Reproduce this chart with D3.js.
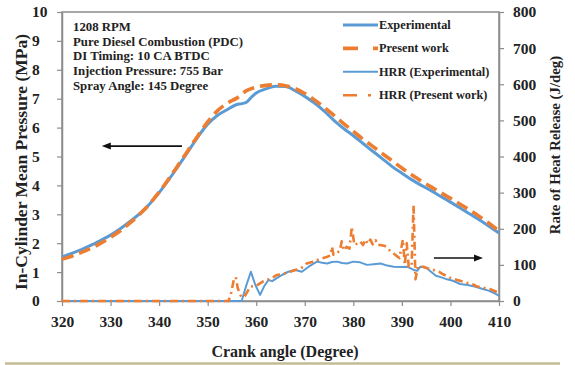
<!DOCTYPE html>
<html>
<head>
<meta charset="utf-8">
<script src="https://cdn.jsdelivr.net/npm/d3@7/dist/d3.min.js"></script>
<style>
  html, body { margin: 0; padding: 0; background: #fff; }
  svg text { font-family: "Liberation Serif", "Times New Roman", serif; font-weight: bold; fill: #222; }
</style>
</head>
<body>
<svg id="chart" width="575" height="365"></svg>
<script>
// Axis ranges and tick values
const crankTicks = [320, 330, 340, 350, 360, 370, 380, 390, 400, 410];
const pressureTicks = [0, 1, 2, 3, 4, 5, 6, 7, 8, 9, 10];
const hrrTicks = [0, 100, 200, 300, 400, 500, 600, 700, 800];

// In-cylinder pressure (MPa), experimental
const pExpAngle = [320,322,324,326,328,330,332,334,336,338,340,342,344,346,348,350,352,354,356,357,358,359,360,362,364,366,368,370,372,374,376,378,380,382,384,386,388,390,392,394,396,398,400,402,404,406,408,410];
const pExpValue = [1.52,1.65,1.78,1.93,2.10,2.28,2.50,2.75,3.02,3.35,3.75,4.20,4.68,5.18,5.68,6.12,6.42,6.62,6.80,6.83,6.88,7.05,7.20,7.34,7.43,7.42,7.28,7.08,6.85,6.57,6.25,5.97,5.72,5.45,5.18,4.92,4.65,4.42,4.20,4.00,3.82,3.62,3.42,3.22,3.01,2.80,2.58,2.35];

// In-cylinder pressure (MPa), present work
const pSimAngle = [320,322,324,326,328,330,332,334,336,338,340,342,344,346,348,350,352,354,356,358,360,362,364,366,368,370,372,374,376,378,380,382,384,386,388,390,392,394,396,398,400,402,404,406,408,410];
const pSimValue = [1.45,1.55,1.68,1.83,2.00,2.20,2.43,2.70,3.00,3.35,3.77,4.23,4.72,5.22,5.72,6.20,6.58,6.84,7.02,7.28,7.40,7.46,7.48,7.45,7.35,7.18,6.96,6.70,6.42,6.14,5.87,5.60,5.35,5.10,4.85,4.60,4.37,4.15,3.95,3.75,3.55,3.35,3.14,2.92,2.68,2.42];

// Rate of heat release (J/deg), experimental
const hExpAngle = [320,357,358,358.9,359.8,360.8,361.6,362.5,363.3,364,365.3,366.6,368,369.4,370.8,372.5,373.6,374.6,375.6,376.6,377.7,378.7,380,381.4,382.8,384.2,385.6,387,388.3,390,391.1,392.4,393.2,393.8,395,396,397,398,399.3,400.5,402,403.5,405,406.5,408,409.3,410];
const hExpValue = [0,0,45,81,45,17,40,58,55,61,72,81,86,81,95,109,106,104,108,109,105,104,109,107,100,102,104,98,95,94,95,86,84,95,92,81,70,66,60,56,47,44,40,34,28,20,14];

// Rate of heat release (J/deg), present work
const hSimAngle = [320,354.3,354.8,355.4,355.8,356.2,356.8,357.5,358.8,360,361.5,363,364.3,365.5,367,368,369,370,370.4,371.5,372.5,373.5,374.5,375.3,375.6,375.9,376.3,377.2,377.6,378,378.6,379.2,379.7,380.2,381,381.4,382,382.5,383,383.5,384,384.6,385,385.6,386.5,387,387.5,388,388.7,389.5,390.2,390.6,391,391.4,392,392.4,392.8,393.3,394.4,395.2,396.5,397.6,398.5,400,401.4,402.7,403.5,404.8,405.5,407,408.2,409.2,410];
const hSimValue = [0,0,20,60,66,35,15,10,40,42,55,62,72,75,81,86,89,98,104,108,113,118,122,126,150,128,132,138,165,140,150,145,206,155,160,165,155,170,158,170,157,168,155,155,152,148,140,135,127,119,170,100,160,95,95,265,60,95,95,91,86,81,74,64,58,53,50,45,40,36,33,27,22];

// Legend entries
const legendLabels = ["Experimental", "Present work", "HRR (Experimental)", "HRR (Present work)"];

// Operating condition notes
const notes = ["1208 RPM", "Pure Diesel Combustion (PDC)", "DI Timing: 10 CA BTDC", "Injection Pressure: 755 Bar", "Spray Angle: 145 Degree"];

const BLUE = "#5b9bd5", ORANGE = "#ed7d31", AXIS = "#8c8c8c";
const SERIF = '"Liberation Serif", "Times New Roman", serif';

const svg = d3.select("#chart");
const plot = { left: 62, right: 499, top: 12, bottom: 301 };

const x = d3.scaleLinear().domain([320, 410]).range([plot.left, plot.right]);
const yP = d3.scaleLinear().domain([0, 10]).range([plot.bottom, plot.top]);
const yH = d3.scaleLinear().domain([0, 800]).range([plot.bottom, plot.top]);

// Plot frame
svg.append("rect")
  .attr("x", plot.left).attr("y", plot.top)
  .attr("width", plot.right - plot.left).attr("height", plot.bottom - plot.top)
  .attr("fill", "none").attr("stroke", AXIS).attr("stroke-width", 1.5);

function styleAxis(g) {
  g.attr("font-family", SERIF).attr("font-size", null);
  g.select(".domain").attr("stroke", AXIS).attr("stroke-width", 1.5);
  g.selectAll(".tick line").attr("stroke", AXIS).attr("stroke-width", 1.2);
  g.selectAll(".tick text").style("font-size", "15.5px").style("font-family", SERIF).attr("fill", "#222");
}

const gx = svg.append("g").attr("transform", `translate(0,${plot.bottom})`)
  .call(d3.axisBottom(x).tickValues(crankTicks).tickSize(5).tickPadding(10).tickSizeOuter(0));
styleAxis(gx);

const gyl = svg.append("g").attr("transform", `translate(${plot.left},0)`)
  .call(d3.axisLeft(yP).tickValues(pressureTicks).tickSize(5).tickSizeOuter(0));
styleAxis(gyl);
gyl.selectAll(".tick text").attr("text-anchor", "start").attr("x", -30);

const gyr = svg.append("g").attr("transform", `translate(${plot.right},0)`)
  .call(d3.axisRight(yH).tickValues(hrrTicks).tickSize(5).tickPadding(9).tickSizeOuter(0));
styleAxis(gyr);

// Axis titles
svg.append("text").attr("transform", "translate(27,162) rotate(-90)")
  .attr("text-anchor", "middle").style("font-size", "17.5px")
  .text("In-Cylinder Mean Pressure (MPa)");
svg.append("text").attr("transform", "translate(560,145) rotate(-90)")
  .attr("text-anchor", "middle").style("font-size", "14.8px")
  .text("Rate of Heat Release (J/deg)");
svg.append("text").attr("x", 285).attr("y", 357)
  .attr("text-anchor", "middle").style("font-size", "16px")
  .text("Crank angle (Degree)");

// Series
svg.append("clipPath").attr("id", "plotclip").append("rect")
  .attr("x", plot.left).attr("y", plot.top - 2)
  .attr("width", plot.right - plot.left + 2).attr("height", plot.bottom - plot.top + 4);

const series = [
  { a: hExpAngle, v: hExpValue, y: yH, color: BLUE, width: 2, dash: null },
  { a: hSimAngle, v: hSimValue, y: yH, color: ORANGE, width: 2.6, dash: "8,4,2,4" },
  { a: pExpAngle, v: pExpValue, y: yP, color: BLUE, width: 3, dash: null },
  { a: pSimAngle, v: pSimValue, y: yP, color: ORANGE, width: 3.6, dash: "12,6" }
];

const lines = svg.append("g").attr("clip-path", "url(#plotclip)");
series.forEach(s => {
  const pts = s.a.map((a, i) => [a, s.v[i]]);
  const smooth = s.y === yP;
  const gen = d3.line().x(d => x(d[0])).y(d => s.y(d[1]))
    .curve(smooth ? d3.curveMonotoneX : d3.curveLinear);
  lines.append("path").datum(pts)
    .attr("d", gen)
    .attr("fill", "none")
    .attr("stroke", s.color)
    .attr("stroke-width", s.width)
    .attr("stroke-linejoin", "round")
    .attr("stroke-dasharray", s.dash);
});

// Notes block
const noteG = svg.append("g");
notes.forEach((t, i) => {
  noteG.append("text").attr("x", 73).attr("y", 31 + i * 14.7)
    .style("font-size", "12.8px").text(t);
});

// Legend
const legendStyles = [
  { color: BLUE, width: 3, dash: null },
  { color: ORANGE, width: 3.6, dash: "15,15,5,20" },
  { color: BLUE, width: 2, dash: null },
  { color: ORANGE, width: 2.6, dash: "14,11,3,20" }
];
const legend = svg.append("g");
legendLabels.forEach((label, i) => {
  const yy = 25 + i * 23.4;
  legend.append("line").attr("x1", 343).attr("x2", 378).attr("y1", yy).attr("y2", yy)
    .attr("stroke", legendStyles[i].color).attr("stroke-width", legendStyles[i].width)
    .attr("stroke-dasharray", legendStyles[i].dash);
  legend.append("text").attr("x", 379).attr("y", yy + 4)
    .style("font-size", "12.3px").text(label);
});

// Arrows pointing to each curve's axis
function arrow(x1, x2, yy) {
  const dir = Math.sign(x2 - x1);
  svg.append("line").attr("x1", x1).attr("x2", x2 - dir * 7).attr("y1", yy).attr("y2", yy)
    .attr("stroke", "#111").attr("stroke-width", 1.6);
  svg.append("path")
    .attr("d", `M${x2},${yy} L${x2 - dir * 9},${yy - 3.5} L${x2 - dir * 9},${yy + 3.5} Z`)
    .attr("fill", "#111");
}
arrow(x(344.7), x(328.2), yP(5.36));
arrow(x(396.6), x(406.7), yH(119));

// Rule under the figure
svg.append("line").attr("x1", 5).attr("x2", 560).attr("y1", 363.5).attr("y2", 363.5)
  .attr("stroke", "#c4bb94").attr("stroke-width", 2.5);
</script>
</body>
</html>
